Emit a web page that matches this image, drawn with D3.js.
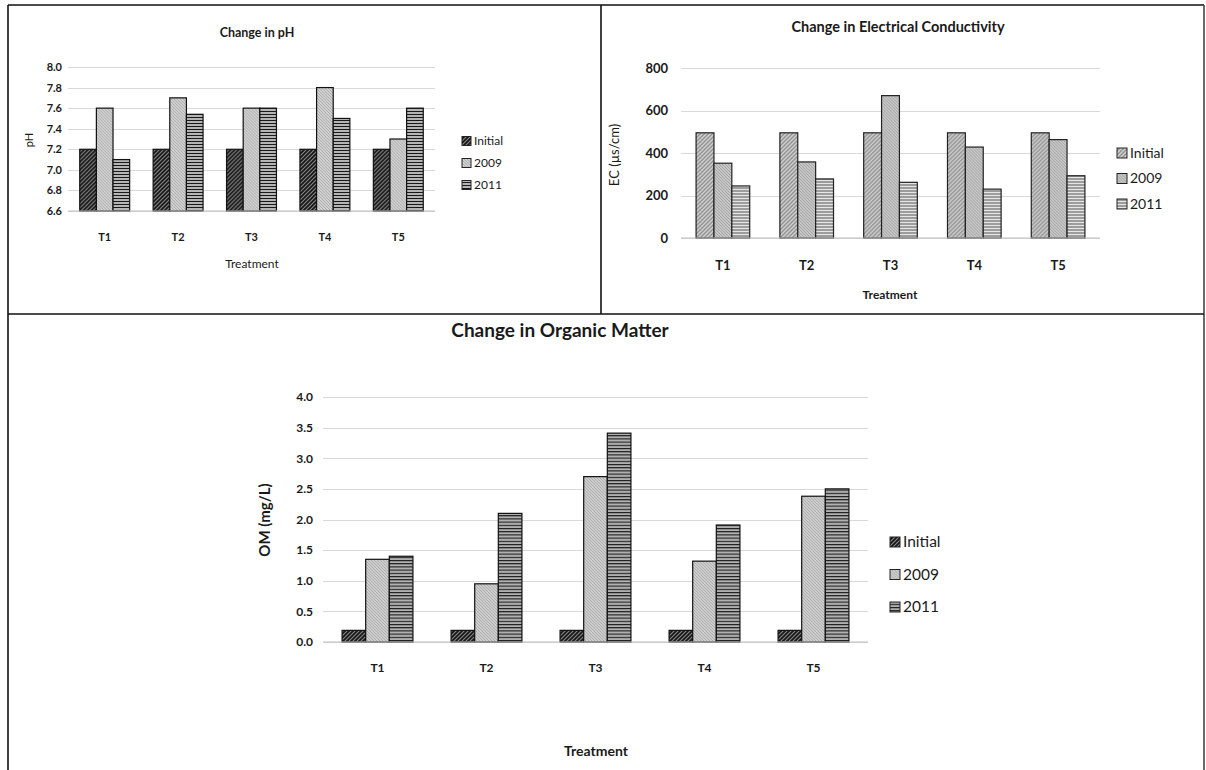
<!DOCTYPE html>
<html>
<head>
<meta charset="utf-8">
<script src="https://cdn.jsdelivr.net/npm/d3@7"></script>
<style>
  body { margin: 0; background: #fff; }
  text { font-family: Lato, "Open Sans", sans-serif; fill: #1a1a1a; }
</style>
</head>
<body>
<script>
// data
var treatments = ["T1", "T2", "T3", "T4", "T5"];
var seriesNames = ["Initial", "2009", "2011"];

var phInitial = [7.2, 7.2, 7.2, 7.2, 7.2];
var ph2009 = [7.6, 7.7, 7.6, 7.8, 7.3];
var ph2011 = [7.1, 7.54, 7.6, 7.5, 7.6];
var phTicks = [6.6, 6.8, 7.0, 7.2, 7.4, 7.6, 7.8, 8.0];

var ecInitial = [495, 495, 495, 495, 495];
var ec2009 = [352, 358, 670, 428, 463];
var ec2011 = [245, 278, 262, 230, 293];
var ecTicks = [0, 200, 400, 600, 800];

var omInitial = [0.19, 0.19, 0.19, 0.19, 0.19];
var om2009 = [1.35, 0.95, 2.7, 1.32, 2.38];
var om2011 = [1.4, 2.1, 3.41, 1.91, 2.5];
var omTicks = [0.0, 0.5, 1.0, 1.5, 2.0, 2.5, 3.0, 3.5, 4.0];

var W = 1206, H = 770;
var svg = d3.select("body").append("svg")
    .attr("width", W)
    .attr("height", H);

var defs = svg.append("defs");

// hatch patterns: diagonal for Initial, fine back-diagonal for 2009, horizontal for 2011
function diag(id, bg, fg, size, back, sw) {
  var p = defs.append("pattern").attr("id", id)
      .attr("patternUnits", "userSpaceOnUse")
      .attr("width", size).attr("height", size);
  p.append("rect").attr("width", size).attr("height", size).attr("fill", bg);
  var d = back
    ? "M0,0 L" + size + "," + size + " M" + (-size) + ",0 L" + size + "," + (2 * size) + " M0," + (-size) + " L" + (2 * size) + "," + size
    : "M0," + size + " L" + size + ",0 M" + (-size) + "," + size + " L" + size + "," + (-size) + " M0," + (2 * size) + " L" + (2 * size) + ",0";
  p.append("path").attr("d", d).attr("stroke", fg).attr("stroke-width", sw);
}
function horiz(id, bg, fg, size) {
  var p = defs.append("pattern").attr("id", id)
      .attr("patternUnits", "userSpaceOnUse")
      .attr("width", size).attr("height", size);
  p.append("rect").attr("width", size).attr("height", size).attr("fill", bg);
  p.append("rect").attr("y", 0).attr("width", size).attr("height", size / 3).attr("fill", fg);
}

diag("phA", "#141414", "#8c8c8c", 4, false, 1.1);
diag("phB", "#e2e2e2", "#a8a8a8", 3, true, 1.1);
horiz("phC", "#b5b5b5", "#1a1a1a", 3);

diag("ecA", "#8e8e8e", "#d2d2d2", 4, false, 1.5);
diag("ecB", "#dadada", "#9d9d9d", 3, true, 1.1);
horiz("ecC", "#9c9c9c", "#e6e6e6", 3);

diag("omA", "#141414", "#8c8c8c", 4, false, 1.1);
diag("omB", "#e0e0e0", "#a6a6a6", 3, true, 1.1);
horiz("omC", "#b0b0b0", "#161616", 3.2);

// panel frame
var frame = svg.append("g").attr("stroke", "#111").attr("stroke-width", 1.6);
frame.append("line").attr("x1", 8).attr("x2", 1204).attr("y1", 5).attr("y2", 5);
frame.append("line").attr("x1", 8).attr("x2", 8).attr("y1", 5).attr("y2", 770);
frame.append("line").attr("x1", 1204).attr("x2", 1204).attr("y1", 5).attr("y2", 770).attr("stroke", "#444");
frame.append("line").attr("x1", 601).attr("x2", 601).attr("y1", 5).attr("y2", 314);
frame.append("line").attr("x1", 8).attr("x2", 1204).attr("y1", 314).attr("y2", 314);

function drawChart(c) {
  var g = svg.append("g");

  var x = d3.scaleBand().domain(treatments)
      .range([c.left, c.right])
      .paddingInner(c.pad).paddingOuter(c.pad / 2);
  var xs = d3.scaleBand().domain(seriesNames).range([0, x.bandwidth()]);
  var y = d3.scaleLinear().domain(c.domain).range([c.bottom, c.top]);

  // gridlines
  g.append("g").selectAll("line").data(c.ticks).join("line")
      .attr("x1", c.left).attr("x2", c.right)
      .attr("y1", function(d) { return Math.round(y(d)) + 0.5; })
      .attr("y2", function(d) { return Math.round(y(d)) + 0.5; })
      .attr("stroke", "#d9d9d9").attr("stroke-width", 1.2);

  // y axis labels
  var yAxis = d3.axisLeft(y).tickValues(c.ticks).tickFormat(c.fmt).tickSize(0).tickPadding(c.tickPad);
  var ya = g.append("g").attr("transform", "translate(" + c.left + ",0)").call(yAxis);
  ya.select(".domain").remove();
  ya.selectAll("text").style("font-size", c.tickFont + "px").style("font-weight", "bold").attr("fill", "#1a1a1a");

  // bars
  var rows = treatments.map(function(t, i) {
    return seriesNames.map(function(s, j) {
      return { t: t, s: s, v: c.values[j][i], j: j };
    });
  });
  g.append("g").selectAll("g").data(rows).join("g")
      .attr("transform", function(d, i) { return "translate(" + x(treatments[i]) + ",0)"; })
    .selectAll("rect").data(function(d) { return d; }).join("rect")
      .attr("x", function(d) { return xs(d.s); })
      .attr("width", xs.bandwidth())
      .attr("y", function(d) { return y(d.v); })
      .attr("height", function(d) { return y(c.domain[0]) - y(d.v); })
      .attr("fill", function(d) { return "url(#" + c.fills[d.j] + ")"; })
      .attr("stroke", c.barStroke).attr("stroke-width", 1.2);

  // baseline
  g.append("line").attr("x1", c.left).attr("x2", c.right)
      .attr("y1", y(c.domain[0])).attr("y2", y(c.domain[0]))
      .attr("stroke", "#bfbfbf").attr("stroke-width", 1.2);

  // category labels
  var xAxis = d3.axisBottom(x).tickSize(0).tickPadding(c.catPad);
  var xa = g.append("g").attr("transform", "translate(0," + c.bottom + ")").call(xAxis);
  xa.select(".domain").remove();
  xa.selectAll("text").style("font-size", c.tickFont + "px").style("font-weight", "bold").attr("fill", "#1a1a1a");

  // titles
  g.append("text").attr("x", c.titleX).attr("y", c.titleY)
      .attr("text-anchor", "middle").style("font-size", c.titleFont + "px").style("font-weight", "bold")
      .text(c.title);
  g.append("text").attr("x", c.xTitleX).attr("y", c.xTitleY)
      .attr("text-anchor", "middle").style("font-size", c.xTitleFont + "px")
      .style("font-weight", c.xTitleBold ? "bold" : "normal")
      .text("Treatment");
  g.append("text")
      .attr("transform", "translate(" + c.yTitleX + "," + c.yTitleY + ") rotate(-90)")
      .attr("text-anchor", "middle").style("font-size", c.yTitleFont + "px")
      .style("font-weight", c.yTitleBold ? "bold" : "normal")
      .text(c.yTitle);

  // legend
  var lg = g.append("g").selectAll("g").data(seriesNames).join("g")
      .attr("transform", function(d, i) { return "translate(" + c.legX + "," + (c.legY + i * c.legStep) + ")"; });
  lg.append("rect").attr("x", 0).attr("y", -c.box / 2).attr("width", c.box).attr("height", c.box)
      .attr("fill", function(d, i) { return "url(#" + c.fills[i] + ")"; })
      .attr("stroke", "#222").attr("stroke-width", 1);
  lg.append("text").attr("x", c.box + 3).attr("dy", "0.35em")
      .style("font-size", c.legFont + "px").text(function(d) { return d; });
}

drawChart({
  title: "Change in pH", titleX: 257, titleY: 37, titleFont: 12.5,
  left: 68, right: 435, top: 67, bottom: 211, pad: 0.32,
  domain: [6.6, 8.0], ticks: phTicks, fmt: d3.format(".1f"),
  values: [phInitial, ph2009, ph2011], fills: ["phA", "phB", "phC"], barStroke: "#111",
  tickFont: 11, tickPad: 6, catPad: 22,
  xTitleX: 252, xTitleY: 268, xTitleFont: 12, xTitleBold: false,
  yTitle: "pH", yTitleX: 33, yTitleY: 140, yTitleFont: 11, yTitleBold: false,
  legX: 462, legY: 141, legStep: 22, box: 9, legFont: 12
});

drawChart({
  title: "Change in Electrical Conductivity", titleX: 898, titleY: 32, titleFont: 14.5,
  left: 681, right: 1100, top: 68, bottom: 238, pad: 0.36,
  domain: [0, 800], ticks: ecTicks, fmt: d3.format("d"),
  values: [ecInitial, ec2009, ec2011], fills: ["ecA", "ecB", "ecC"], barStroke: "#222",
  tickFont: 13, tickPad: 13, catPad: 23,
  xTitleX: 890, xTitleY: 299, xTitleFont: 12, xTitleBold: true,
  yTitle: "EC (\u00b5s/cm)", yTitleX: 619, yTitleY: 155, yTitleFont: 13, yTitleBold: false,
  legX: 1117, legY: 153, legStep: 25.5, box: 10, legFont: 14
});

drawChart({
  title: "Change in Organic Matter", titleX: 560, titleY: 337, titleFont: 19,
  left: 323, right: 868, top: 397, bottom: 642, pad: 0.35,
  domain: [0, 4.0], ticks: omTicks, fmt: d3.format(".1f"),
  values: [omInitial, om2009, om2011], fills: ["omA", "omB", "omC"], barStroke: "#111",
  tickFont: 12, tickPad: 10, catPad: 21,
  xTitleX: 596, xTitleY: 756, xTitleFont: 14, xTitleBold: true,
  yTitle: "OM (mg/L)", yTitleX: 270, yTitleY: 520, yTitleFont: 15, yTitleBold: true,
  legX: 890, legY: 542, legStep: 32.5, box: 10, legFont: 15.5
});
</script>
</body>
</html>
